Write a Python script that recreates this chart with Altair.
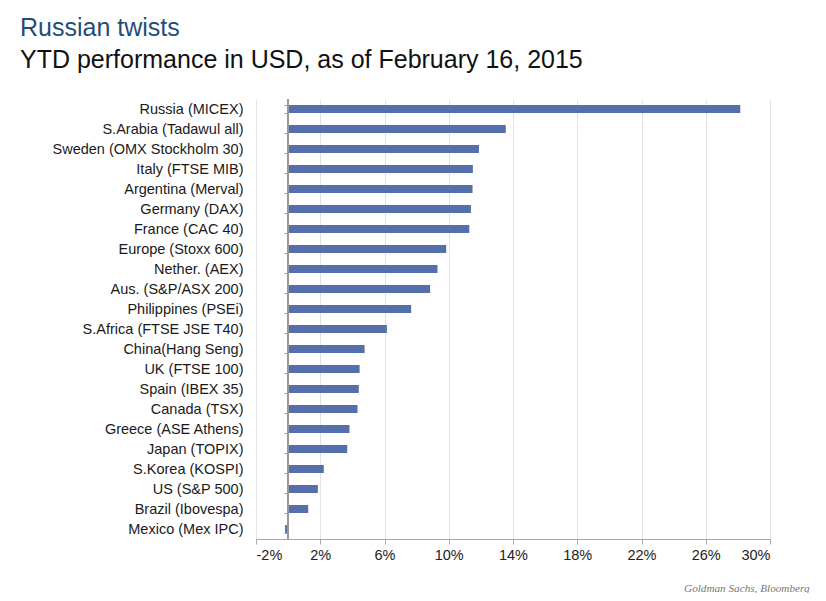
import altair as alt
import pandas as pd

categories = [
    "Russia (MICEX)", "S.Arabia (Tadawul all)", "Sweden (OMX Stockholm 30)",
    "Italy (FTSE MIB)", "Argentina (Merval)", "Germany (DAX)", "France (CAC 40)",
    "Europe (Stoxx 600)", "Nether. (AEX)", "Aus. (S&P/ASX 200)",
    "Philippines (PSEi)", "S.Africa (FTSE JSE T40)", "China(Hang Seng)",
    "UK (FTSE 100)", "Spain (IBEX 35)", "Canada (TSX)", "Greece (ASE Athens)",
    "Japan (TOPIX)", "S.Korea (KOSPI)", "US (S&P 500)", "Brazil (Ibovespa)",
    "Mexico (Mex IPC)",
]
values = [
    28.15, 13.55, 11.88, 11.5, 11.48, 11.38, 11.28, 9.84, 9.3, 8.84,
    7.66, 6.15, 4.76, 4.45, 4.4, 4.32, 3.82, 3.68, 2.22, 1.85, 1.25, -0.19,
]
tick_values = [-2, 2, 6, 10, 14, 18, 22, 26, 30]

df = pd.DataFrame({"market": categories, "ytd": values})

FONT = "Liberation Sans"

bars = alt.Chart(df).mark_bar(color="#5470AC").encode(
    x=alt.X(
        "ytd:Q",
        scale=alt.Scale(domain=[-2, 30], nice=False, zero=False),
        axis=alt.Axis(
            values=tick_values,
            labelExpr="datum.value + '%'",
            grid=True,
            gridColor="#E2E2E2",
            domainColor="#A8A8A8",
            tickColor="#A8A8A8",
            tickSize=5,
            labelFont=FONT,
            labelFontSize=14.5,
            labelColor="#222222",
            labelPadding=4,
            title="Goldman Sachs, Bloomberg",
            titleFont="Liberation Serif",
            titleFontStyle="italic",
            titleFontWeight="normal",
            titleFontSize=11.2,
            titleColor="#777777",
            titleAlign="right",
            titleBaseline="alphabetic",
            titleX=553,
            titleY=52,
        ),
    ),
    y=alt.Y(
        "market:N",
        sort=categories,
        scale=alt.Scale(paddingInner=0.6, paddingOuter=0.3),
        axis=alt.Axis(
            title=None,
            offset=-32,
            grid=False,
            domain=True,
            tickBand="extent",
            tickSize=4,
            tickColor="#9A9A9A",
            domainColor="#9A9A9A",
            labelFont=FONT,
            labelFontSize=14.5,
            labelColor="#1A1A1A",
            labelPadding=41,
            labelLimit=400,
        ),
    ),
)

zero_line = alt.Chart(df).mark_rule(color="#9A9A9A", strokeWidth=1).encode(
    x=alt.datum(0)
)

chart = alt.layer(bars, zero_line).properties(
    width=514,
    height=440,
    autosize=alt.AutoSizeParams(type="none"),
    padding={"left": 248, "top": 91, "right": 48, "bottom": 54},
    title=alt.TitleParams(
        text="Russian twists",
        subtitle="YTD performance in USD, as of February 16, 2015",
        anchor="start",
        frame="group",
        dx=-236,
        offset=18,
        font=FONT,
        fontSize=25,
        fontWeight="normal",
        color="#1F4E79",
        subtitleFont=FONT,
        subtitleFontSize=25,
        subtitleColor="#111111",
        subtitlePadding=7,
    ),
).configure_view(stroke=None)

chart.save("out.html", embed_options={"renderer": "svg", "actions": False})
